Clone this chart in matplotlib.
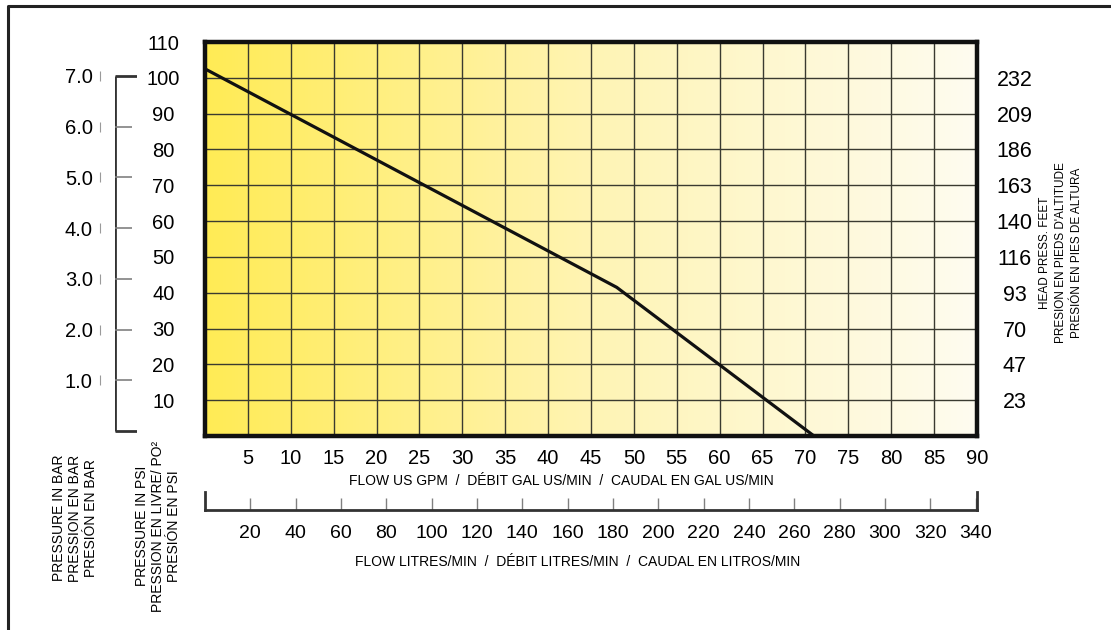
import numpy as np
import matplotlib
matplotlib.use('agg')
import matplotlib.pyplot as plt
from matplotlib.colors import LinearSegmentedColormap
from matplotlib.lines import Line2D

plt.rcParams['font.family'] = ['Liberation Sans', 'DejaVu Sans']

# pump curve: flow (US GPM) vs pressure (PSI)
flow_gpm = [0, 48, 71]
pressure_psi = [102.5, 41.5, 0]

gpm_ticks = list(range(5, 91, 5))
psi_ticks = list(range(10, 111, 10))
feet_psi = list(range(10, 101, 10))
feet_labels = ['23', '47', '70', '93', '116', '140', '163', '186', '209', '232']
bar_ticks = [1, 2, 3, 4, 5, 6, 7]
bar_labels = ['1.0', '2.0', '3.0', '4.0', '5.0', '6.0', '7.0']
litre_ticks = list(range(20, 341, 20))
LITRES_PER_GAL = 3.785

W, H = 1111, 630
fig = plt.figure(figsize=(W / 100, H / 100), dpi=100)


def px(x0, y0, x1, y1):
    # pixel box -> figure fraction rect
    return [x0 / W, 1 - y1 / H, (x1 - x0) / W, (y1 - y0) / H]


# main chart
ax = fig.add_axes(px(205, 42, 977, 436))
yel = LinearSegmentedColormap.from_list('yel', ['#ffeb55', '#fff4b4', '#fefcf0'])
ax.imshow(np.linspace(0, 1, 256).reshape(1, -1), extent=[0, 90, 0, 110],
          aspect='auto', cmap=yel, zorder=0)
ax.plot(flow_gpm, pressure_psi, color='#111111', lw=2.3, zorder=3)
ax.set_xlim(0, 90)
ax.set_ylim(0, 110)
ax.set_xticks(gpm_ticks)
ax.set_yticks(psi_ticks)
ax.grid(True, color='#3a3a30', lw=1)
ax.tick_params(axis='both', length=0)
ax.tick_params(axis='x', pad=9, labelsize=14.5)
ax.tick_params(axis='y', pad=30, labelsize=14.5)
for t in ax.get_yticklabels():
    t.set_ha('center')
for s in ax.spines.values():
    s.set_linewidth(3.2)
    s.set_color('#111111')

# head in feet on the right
ax2 = ax.twinx()
ax2.set_ylim(0, 110)
ax2.set_yticks(feet_psi, feet_labels)
ax2.tick_params(axis='y', length=0, labelsize=15.5, pad=27)
for t in ax2.get_yticklabels():
    t.set_ha('center')
for s in ax2.spines.values():
    s.set_visible(False)

# bar scale bracket on the left
axb = fig.add_axes(px(115, 42, 137, 436))
axb.set_xlim(0, 1)
axb.set_ylim(-0.0986, 7.67)
axb.patch.set_facecolor('none')
for s in axb.spines.values():
    s.set_visible(False)
axb.set_xticks([])
axb.set_yticks(bar_ticks, bar_labels)
axb.tick_params(axis='y', length=0, labelsize=14.5, pad=16)
axb.vlines(0, 0, 7, color='#333333', lw=2)
axb.hlines([0, 7], 0, 1, color='#333333', lw=2)
axb.hlines(bar_ticks[:-1], 0, 0.75, color='#808080', lw=1.2)
axb.plot([-0.68] * len(bar_ticks), bar_ticks, ls='none', marker='|', ms=7,
         mew=0.8, color='#9a9a9a', clip_on=False)

# litres scale under the chart
axl = fig.add_axes(px(205, 492, 977, 510))
axl.set_xlim(0, 90 * LITRES_PER_GAL)
axl.patch.set_facecolor('none')
axl.spines['top'].set_visible(False)
for k in ['left', 'right', 'bottom']:
    axl.spines[k].set_linewidth(2)
    axl.spines[k].set_color('#333333')
axl.set_yticks([])
axl.set_xticks(litre_ticks)
axl.tick_params(axis='x', direction='in', length=9, width=1, color='#808080',
                labelsize=14, pad=11)

# axis titles
fig.text(561 / W, 1 - 481 / H, 'FLOW US GPM  /  DÉBIT GAL US/MIN  /  CAUDAL EN GAL US/MIN',
         ha='center', va='center', fontsize=10)
fig.text(578 / W, 1 - 562 / H, 'FLOW LITRES/MIN  /  DÉBIT LITRES/MIN  /  CAUDAL EN LITROS/MIN',
         ha='center', va='center', fontsize=10)
fig.text(1061 / W, 1 - 253 / H, "HEAD PRESS. FEET\nPRESION EN PIEDS D'ALTITUDE\nPRESIÓN EN PIES DE ALTURA",
         rotation=90, ha='center', va='center', multialignment='center',
         fontsize=8.5, linespacing=1.4)
fig.text(75 / W, 1 - 518 / H, 'PRESSURE IN BAR\nPRESSION EN BAR\nPRESIÓN EN BAR',
         rotation=90, ha='center', va='center', multialignment='center',
         fontsize=10, linespacing=1.15)
fig.text(158 / W, 1 - 526 / H, 'PRESSURE IN PSI\nPRESSION EN LIVRE/ PO²\nPRESIÓN EN PSI',
         rotation=90, ha='center', va='center', multialignment='center',
         fontsize=10, linespacing=1.15)

# outer frame (top and left edges)
fig.add_artist(Line2D([8 / W, 8 / W, 1], [0, 1 - 6 / H, 1 - 6 / H],
                      transform=fig.transFigure, color='#222222', lw=2.2))

fig.savefig('out.png', dpi=100)
